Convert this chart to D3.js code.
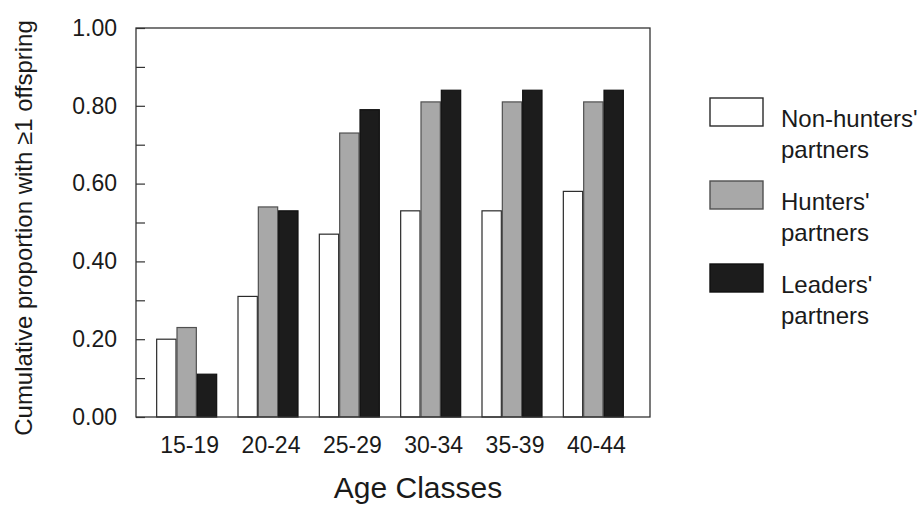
<!DOCTYPE html>
<html>
<head>
<meta charset="utf-8">
<script src="https://cdn.jsdelivr.net/npm/d3@7"></script>
<style>
  html, body { margin: 0; padding: 0; background: #fff; }
  svg text { font-family: "Liberation Sans", Arial, Helvetica, sans-serif; fill: #1a1a1a; }
</style>
</head>
<body>
<svg id="chart" width="920" height="507"></svg>
<script>
const categories = ["15-19", "20-24", "25-29", "30-34", "35-39", "40-44"];
const seriesNames = ["Non-hunters' partners", "Hunters' partners", "Leaders' partners"];
const nonHunters = [0.20, 0.31, 0.47, 0.53, 0.53, 0.58];
const hunters    = [0.23, 0.54, 0.73, 0.81, 0.81, 0.81];
const leaders    = [0.11, 0.53, 0.79, 0.84, 0.84, 0.84];
const majorTicks = [0, 0.2, 0.4, 0.6, 0.8, 1.0];
const minorTicks = [0.1, 0.3, 0.5, 0.7, 0.9];
const legendLines = [["Non-hunters'", "partners"], ["Hunters'", "partners"], ["Leaders'", "partners"]];

const seriesValues = [nonHunters, hunters, leaders];
const fills = ["#ffffff", "#a8a8a8", "#1c1c1c"];
const strokes = ["#2a2a2a", "#505050", "#111111"];

const svg = d3.select("#chart");
const plot = { left: 136, right: 650, top: 28, bottom: 417 };

const y = d3.scaleLinear().domain([0, 1]).range([plot.bottom, plot.top]);
const x = d3.scaleBand().domain(categories).range([146, 634]).paddingInner(0.25).paddingOuter(0.125);
const xs = d3.scaleBand().domain(d3.range(seriesNames.length)).range([0, x.bandwidth()]);

// bars
const groups = svg.append("g").selectAll("g").data(categories).join("g")
  .attr("transform", d => `translate(${x(d)},0)`);
groups.selectAll("rect")
  .data((d, i) => seriesValues.map((vals, s) => ({ s, v: vals[i] })))
  .join("rect")
  .attr("x", d => xs(d.s) + 0.5)
  .attr("width", xs.bandwidth() - 1)
  .attr("y", d => y(d.v))
  .attr("height", d => y(0) - y(d.v))
  .attr("fill", d => fills[d.s])
  .attr("stroke", d => strokes[d.s])
  .attr("stroke-width", 1.2);

// frame
svg.append("rect")
  .attr("x", plot.left).attr("y", plot.top)
  .attr("width", plot.right - plot.left).attr("height", plot.bottom - plot.top)
  .attr("fill", "none").attr("stroke", "#333").attr("stroke-width", 1.3);

// y axis (ticks inward)
const yAxis = svg.append("g").attr("transform", `translate(${plot.left},0)`)
  .call(d3.axisLeft(y).tickValues(majorTicks).tickFormat(d3.format(".2f")).tickSize(-9).tickPadding(19));
const yMinor = svg.append("g").attr("transform", `translate(${plot.left},0)`)
  .call(d3.axisLeft(y).tickValues(minorTicks).tickFormat("").tickSize(-9));
[yAxis, yMinor].forEach(g => {
  g.select(".domain").remove();
  g.selectAll(".tick line").attr("stroke", "#333").attr("stroke-width", 1.2);
});
yAxis.selectAll(".tick text").attr("font-size", 23).attr("fill", "#1a1a1a");

// x axis labels
const xAxis = svg.append("g").attr("transform", `translate(3,${plot.bottom})`)
  .call(d3.axisBottom(x).tickSize(0).tickPadding(20));
xAxis.select(".domain").remove();
xAxis.selectAll(".tick text").attr("font-size", 23).attr("fill", "#1a1a1a");

// axis titles
svg.append("text")
  .attr("x", 418).attr("y", 498)
  .attr("text-anchor", "middle")
  .attr("font-size", 30)
  .text("Age Classes");

svg.append("text")
  .attr("transform", "translate(32,228) rotate(-90)")
  .attr("text-anchor", "middle")
  .attr("font-size", 24)
  .text("Cumulative proportion with \u22651 offspring");

// legend
const legend = svg.append("g").selectAll("g").data(seriesNames).join("g")
  .attr("transform", (d, i) => `translate(710,${98 + i * 83})`);
legend.append("rect")
  .attr("width", 53).attr("height", 28)
  .attr("fill", (d, i) => fills[i])
  .attr("stroke", (d, i) => strokes[i])
  .attr("stroke-width", 1.4);
legend.append("text")
  .attr("x", 71).attr("y", 29)
  .attr("font-size", 24)
  .selectAll("tspan")
  .data((d, i) => legendLines[i])
  .join("tspan")
  .attr("x", 71)
  .attr("dy", (d, j) => j === 0 ? 0 : 31)
  .text(d => d);
</script>
</body>
</html>
